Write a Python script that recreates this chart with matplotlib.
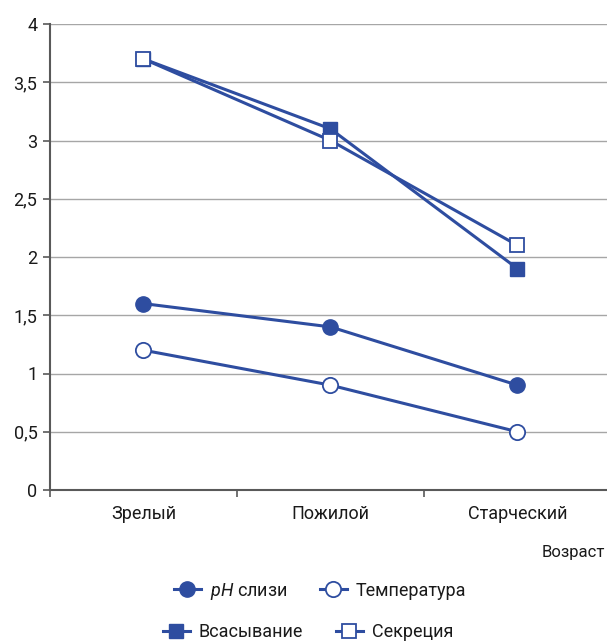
import matplotlib
matplotlib.use("Agg")
import matplotlib.pyplot as plt
from matplotlib.lines import Line2D

plt.rcParams['font.family'] = ['Roboto', 'DejaVu Sans']
plt.rcParams['mathtext.fontset'] = 'custom'
plt.rcParams['mathtext.it'] = 'Roboto:italic'
plt.rcParams['mathtext.rm'] = 'Roboto'

categories = ["Зрелый", "Пожилой", "Старческий"]
ph_mucus = [1.6, 1.4, 0.9]
temperature = [1.2, 0.9, 0.5]
absorption = [3.7, 3.1, 1.9]
secretion = [3.7, 3.0, 2.1]
y_ticks = [0, 0.5, 1, 1.5, 2, 2.5, 3, 3.5, 4]

blue = "#2E4DA0"
text_color = "#1A1A1A"
W, H = 607, 644
fig = plt.figure(figsize=(W / 100, H / 100), dpi=100)
ax = fig.add_axes([50 / W, 1 - 490 / H, 561 / W, 466 / H])

x = list(range(len(categories)))
lw = 2.2
series = [
    (ph_mucus, dict(marker="o", markersize=11, markerfacecolor=blue, markeredgecolor=blue)),
    (temperature, dict(marker="o", markersize=11, markerfacecolor="white", markeredgecolor=blue, markeredgewidth=1.3)),
    (absorption, dict(marker="s", markersize=10, markerfacecolor=blue, markeredgecolor=blue)),
    (secretion, dict(marker="s", markersize=10, markerfacecolor="white", markeredgecolor=blue, markeredgewidth=1.3)),
]
for vals, st in series:
    ax.plot(x, vals, color=blue, linewidth=lw, zorder=3, clip_on=False, **st)

ax.set_xlim(-0.5, 2.5)
ax.set_ylim(0, 4)
ax.set_yticks(y_ticks)
ax.set_yticklabels([("%g" % v).replace(".", ",") for v in y_ticks], fontsize=13, color=text_color)
ax.set_xticks([-0.5, 0.5, 1.5, 2.5])
ax.set_xticklabels([])
ax.set_xticks(x, minor=True)
ax.set_xticklabels(categories, minor=True, fontsize=13, color=text_color)
ax.tick_params(axis="x", which="minor", length=0, pad=11)
ax.tick_params(axis="x", which="major", length=5, color="#595959", width=1.2)
ax.tick_params(axis="y", length=5, color="#595959", width=1.2, pad=4)

ax.grid(axis="y", color="#A6A6A6", linewidth=1)
ax.set_axisbelow(True)
for s in ["top", "right"]:
    ax.spines[s].set_visible(False)
for s in ["left", "bottom"]:
    ax.spines[s].set_color("#595959")
    ax.spines[s].set_linewidth(1.5)

fig.text(605 / W, 1 - 553 / H, "Возраст", ha="right", va="center", fontsize=12, color=text_color)

def handle(st):
    return Line2D([0], [0], color=blue, linewidth=lw, **st)

hs = [handle(s[1]) for s in series]
common = dict(ncol=2, loc="center", frameon=False, fontsize=13, handlelength=1.5,
              columnspacing=1.8, handletextpad=0.5, labelcolor=text_color)
leg1 = fig.legend([hs[0], hs[1]], [r"$\it{pH}$ слизи", "Температура"],
                  bbox_to_anchor=(320 / W, 1 - 591 / H), **common)
leg2 = fig.legend([hs[2], hs[3]], ["Всасывание", "Секреция"],
                  bbox_to_anchor=(308 / W, 1 - 632 / H), **common)

fig.savefig("out.png", dpi=100)
